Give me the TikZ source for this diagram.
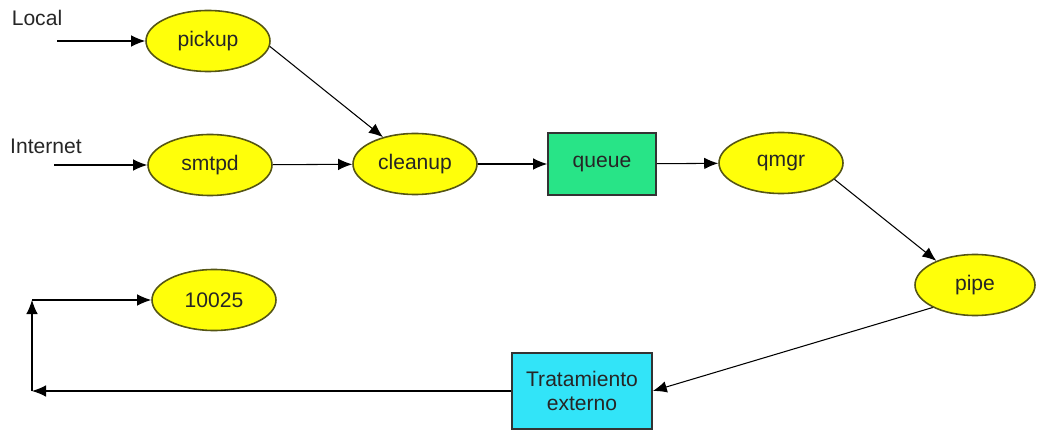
\documentclass[tikz,border=0pt]{standalone}
\usepackage{fontspec}
\setmainfont{Liberation Sans}
\usetikzlibrary{shapes.geometric,arrows.meta}
\definecolor{procyellow}{RGB}{255,255,10}
\definecolor{procborder}{RGB}{85,85,20}
\definecolor{queuegreen}{RGB}{40,228,135}
\definecolor{extcyan}{RGB}{50,228,248}

\begin{document}
\begin{tikzpicture}[
			>={Latex[length=2.8mm,width=2.3mm]},
			proc/.style={ellipse, draw=procborder, fill=procyellow, line width=0.9pt, minimum width=2.48cm, minimum height=1.22cm, inner sep=0pt, text=black!85, font=\fontsize{12}{14}\selectfont},
			store/.style={rectangle, draw=black!80, line width=0.9pt, minimum width=2.16cm, minimum height=1.24cm, align=center, text=black!85, font=\fontsize{12}{14}\selectfont},
			flow/.style={->, line width=0.6pt},
			lbl/.style={text=black!85, font=\fontsize{12}{14}\selectfont}
		]
		\useasboundingbox (0,0) rectangle (20.76,8.6);

		\node[lbl] (local) at (0.74,8.24) {Local};
		\node[lbl] (internet) at (0.92,5.68) {Internet};
		\coordinate (localin) at (1.14,7.78);
		\coordinate (netin) at (1.08,5.30);

		\node[proc] (pickup) at (4.16,7.78) {pickup};
		\node[proc] (smtpd) at (4.20,5.30) {smtpd};
		\node[proc] (cleanup) at (8.30,5.32) {cleanup};
		\node[store, fill=queuegreen] (queue) at (12.04,5.32) {queue};
		\node[proc] (qmgr) at (15.62,5.34) {qmgr};
		\node[proc, minimum width=2.4cm] (pipe) at (19.50,2.90) {pipe};
		\node[proc] (port) at (4.28,2.60) {10025};
		\node[store, fill=extcyan, minimum width=2.8cm, minimum height=1.52cm, inner sep=1pt] (ext) at (11.64,0.78) {Tratamiento\\externo};

		\coordinate (loopdown) at (0.64,0.78);
		\coordinate (loopup) at (0.64,2.60);

		\draw[flow] (localin) -- (pickup);
		\draw[flow] (netin) -- (smtpd);
		\draw[flow] (pickup.-5) -- (cleanup.140);
		\draw[flow] (smtpd) -- (cleanup);
		\draw[flow] (cleanup) -- (queue);
		\draw[flow] (queue) -- (qmgr);
		\draw[flow] (qmgr.-17) -- (pipe.148);
		\draw[flow] (pipe.208) -- (ext.east);
		\draw[flow] (ext) -- (loopdown);
		\draw[flow] (loopdown) -- (loopup);
		\draw[flow] (loopup) -- (port);
	\end{tikzpicture}
\end{document}
